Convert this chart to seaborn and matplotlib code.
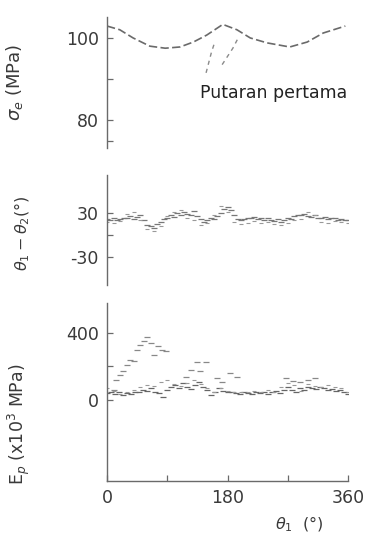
import matplotlib
matplotlib.use("Agg")
import matplotlib.pyplot as plt
import seaborn as sns
import pandas as pd
import numpy as np

# ---------------- data ----------------
# panel 1: equivalent stress sigma_e (MPa)
sig_theta = [0, 19, 39, 64, 87, 109, 129, 149, 173, 194, 214, 239, 273, 299, 323, 356]
sig_vals = [102.9, 102.0, 100.0, 98.0, 97.5, 97.8, 99.0, 100.7, 103.3, 102.0, 100.0, 98.8, 97.8, 99.0, 101.2, 102.9]
# first rotation (two dashed branches)
first_a_theta = [148, 152, 156, 160]
first_a_vals = [91.5, 94.0, 96.5, 98.5]
first_b_theta = [172, 180, 188, 196]
first_b_vals = [93.5, 95.5, 97.5, 100.0]
note_text = "Putaran pertama"

# panel 2: theta1 - theta2 (deg)
dth_theta_a = list(range(0, 361, 5))
dth_vals_a = [22, 20, 23, 21, 22, 24, 23, 26, 22, 25, 28, 20, 14, 12, 10, 15, 18, 22, 24, 27,
              25, 30, 28, 31, 29, 27, 33, 26, 22, 18, 20, 24, 22, 26, 30, 36, 38, 34, 28, 22,
              20, 22, 24, 23, 25, 22, 24, 20, 23, 21, 19, 22, 18, 20, 24, 22, 26, 28, 27, 29,
              26, 25, 27, 24, 23, 25, 22, 24, 23, 21, 22, 20, 21]
dth_theta_b = list(range(0, 361, 10))
dth_vals_b = [18, 17, 19, 29, 31, 20, 8, 6, 12, 26, 32, 34, 24, 20, 14, 16, 27, 40, 31, 18,
              15, 17, 19, 16, 18, 15, 14, 17, 20, 22, 31, 28, 18, 17, 19, 18, 17]

# panel 3: plastic modulus E_p (x10^3 MPa)
ep_hi_theta = [10, 14, 19, 24, 30, 34, 40, 45, 49, 55, 60, 65, 70, 76, 82, 88,
               118, 126, 134, 139, 148, 165, 172, 184, 194, 268, 278, 288, 300, 310]
ep_hi_vals = [60, 120, 150, 175, 210, 240, 230, 300, 330, 350, 375, 340, 270, 320, 300, 290,
              140, 180, 225, 170, 225, 130, 110, 160, 140, 130, 115, 105, 120, 130]
ep_lo_theta = list(range(0, 361, 6))
ep_lo_vals = [40, 50, 35, 45, 30, 40, 35, 50, 45, 60, 55, 70, 50, 40, 20, 60, 75, 90, 70, 100,
              80, 65, 90, 110, 75, 60, 30, 45, 70, 55, 50, 45, 40, 35, 45, 40, 35, 45, 40, 50,
              35, 45, 55, 40, 60, 75, 60, 50, 70, 60, 80, 70, 65, 75, 70, 60, 65, 55, 60, 45, 35]
ep_mid_theta = list(range(0, 361, 10))
ep_mid_vals = [70, 55, 35, 45, 60, 80, 90, 85, 110, 120, 95, 85, 100, 120, 95, 70, 45, 70, 55, 50,
               45, 50, 55, 45, 60, 45, 80, 100, 90, 55, 95, 85, 80, 90, 80, 70, 45]

x_ticks = [0, 90, 180, 270, 360]
x_ticklabels = ["0", "", "180", "", "360"]

# ---------------- style ----------------
sns.set_theme(style="white")
plt.rcParams["font.family"] = ["DejaVu Sans"]
INK = "#3a3a3a"
GRAY = "#6a6a6a"
TICK_FS = 12.5

fig = plt.figure(figsize=(3.74, 5.36), dpi=100)
L, W = 107 / 374, 241 / 374
ax1 = fig.add_axes([L, 1 - 148 / 536, W, 131 / 536])
ax2 = fig.add_axes([L, 1 - 285 / 536, W, 110 / 536])
ax3 = fig.add_axes([L, 1 - 481 / 536, W, 178 / 536])

for ax in (ax1, ax2, ax3):
    ax.set_facecolor("white")
    for s in ("top", "right"):
        ax.spines[s].set_visible(False)
    ax.spines["left"].set_color(GRAY)
    ax.spines["left"].set_linewidth(1.0)
    ax.tick_params(axis="y", direction="in", length=4, width=0.9, color=GRAY,
                   labelsize=TICK_FS, labelcolor=INK, pad=6, left=True)
    ax.set_xlim(0, 360)
for ax in (ax1, ax2):
    ax.spines["bottom"].set_visible(False)
    ax.set_xticks([])

# panel 1
sns.lineplot(x=sig_theta, y=sig_vals, ax=ax1, color=GRAY, linewidth=1.2,
             linestyle=(0, (5, 2)), sort=False)
sns.lineplot(x=first_a_theta, y=first_a_vals, ax=ax1, color="#8a8a8a", linewidth=1.0,
             linestyle=(0, (3, 3)), sort=False)
sns.lineplot(x=first_b_theta, y=first_b_vals, ax=ax1, color="#8a8a8a", linewidth=1.0,
             linestyle=(0, (3, 3)), sort=False)
ax1.set_ylim(73.2, 105.1)
ax1.set_yticks([75, 80, 90, 100])
ax1.set_yticklabels(["", "80", "", "100"])
ax1.text(139, 86.6, note_text, fontsize=12.5, color="#222222", va="center", ha="left")
ax1.set_ylabel(r"$\sigma_e$ (MPa)", fontsize=13, color=INK)
ax1.yaxis.set_label_coords(-0.34, 0.50)

# panel 2
sns.scatterplot(x=dth_theta_a, y=dth_vals_a, ax=ax2, marker="_", s=14, color="#777777",
                linewidth=0.9)
sns.scatterplot(x=dth_theta_b, y=dth_vals_b, ax=ax2, marker="_", s=12, color="#999999",
                linewidth=0.8)
ax2.set_ylim(-68, 82)
ax2.set_yticks([-30, 0, 30])
ax2.set_yticklabels(["-30", "", "30"])
ax2.set_ylabel(r"$\theta_1 - \theta_2$(°)", fontsize=11.5, color=INK)
ax2.yaxis.set_label_coords(-0.31, 0.47)

# panel 3
sns.scatterplot(x=ep_hi_theta, y=ep_hi_vals, ax=ax3, marker="_", s=14, color="#888888",
                linewidth=0.9)
sns.scatterplot(x=ep_lo_theta, y=ep_lo_vals, ax=ax3, marker="_", s=14, color="#666666",
                linewidth=0.9)
sns.scatterplot(x=ep_mid_theta, y=ep_mid_vals, ax=ax3, marker="_", s=12, color="#999999",
                linewidth=0.8)
ax3.set_ylim(-484, 579)
ax3.set_yticks([0, 200, 400])
ax3.set_yticklabels(["0", "", "400"])
ax3.spines["bottom"].set_color(GRAY)
ax3.spines["bottom"].set_linewidth(1.0)
ax3.set_xticks(x_ticks)
ax3.set_xticklabels(x_ticklabels)
ax3.tick_params(axis="x", direction="in", length=4, width=0.9, color=GRAY,
                labelsize=TICK_FS, labelcolor=INK, pad=6, bottom=True)
ax3.set_ylabel(r"E$_p$ (x10$^3$ MPa)", fontsize=12.5, color=INK)
ax3.yaxis.set_label_coords(-0.31, 0.32)
ax3.set_xlabel(r"$\theta_1$  (°)", fontsize=11.5, color=INK)
ax3.xaxis.set_label_coords(0.80, -0.19)

fig.savefig("out.png", dpi=100, facecolor="white")
